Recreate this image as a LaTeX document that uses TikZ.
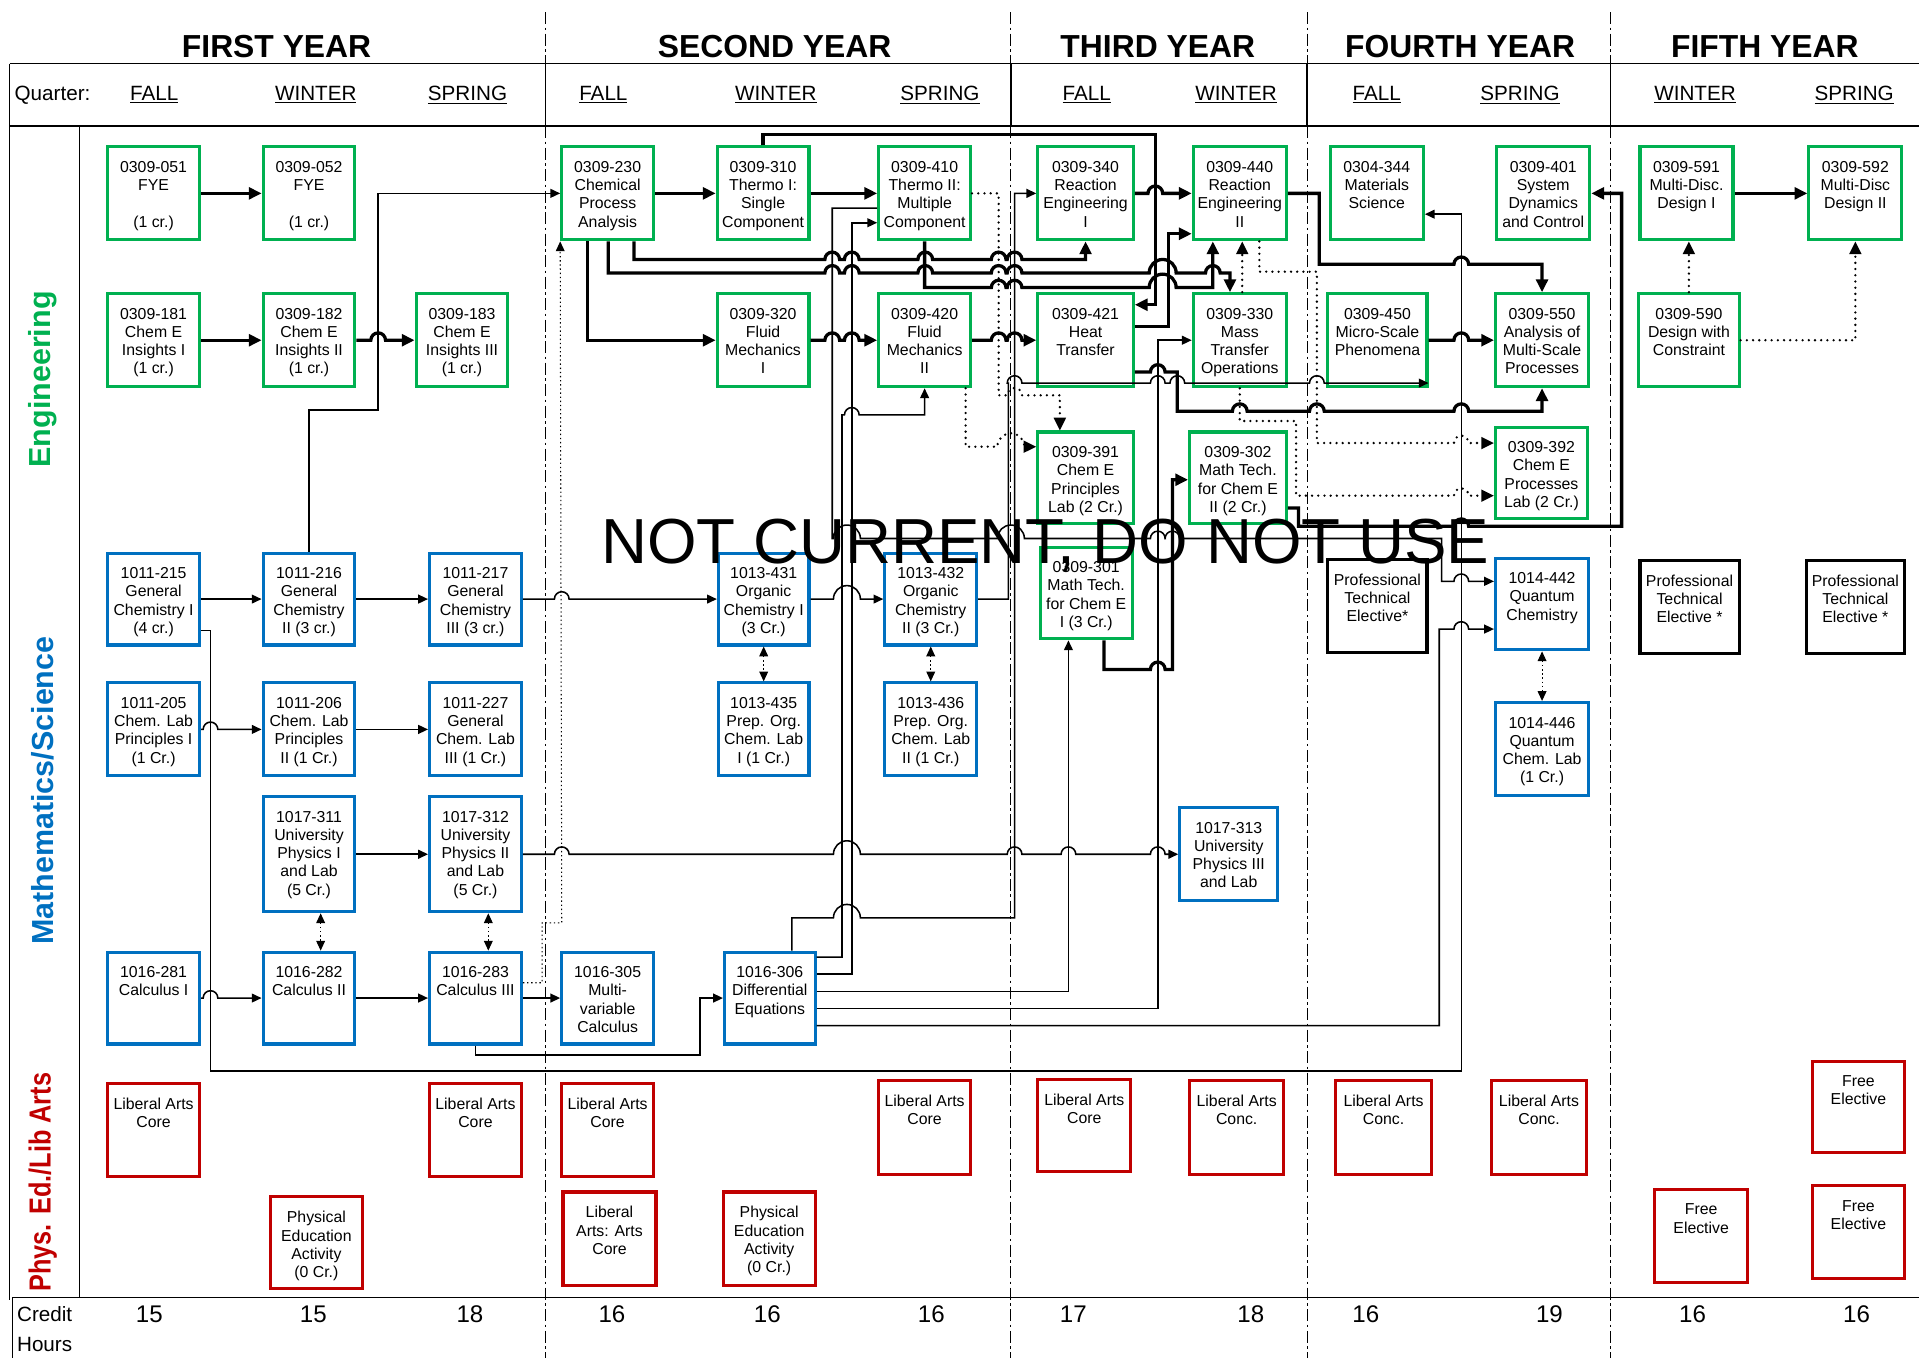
\documentclass[tikz,border=0pt]{standalone}
\usepackage{fontspec}
\usepackage{graphicx}
\setmainfont{Liberation Sans}
\usetikzlibrary{arrows.meta,fit}
\definecolor{engc}{HTML}{00B050}
\definecolor{scic}{HTML}{0070C0}
\definecolor{libc}{HTML}{C00000}
\newcommand\linehop[2]{-- ({#1-6},#2) arc[start angle=180,end angle=0,radius=0.15cm]}
\newcommand\widehop[2]{-- ({#1-11},#2) arc[start angle=180,end angle=0,radius=0.275cm]}
\newcommand\course[4]{\node[#2,fit={#3}] (#1) {};
  \node[crstext] (#1t) at ([yshift=-0.32cm]#1.north) {#4};}
\tikzset{
  eng/.style={draw=engc,line width=1.8pt,inner sep=0pt},
  sci/.style={draw=scic,line width=1.8pt,inner sep=0pt},
  lib/.style={draw=libc,line width=1.8pt,inner sep=0pt},
  elec/.style={draw=black,line width=1.8pt,inner sep=0pt},
  crstext/.style={font=\fontsize{9.2}{10.6}\selectfont,align=center,inner sep=0pt,anchor=north},
  ea/.style={line width=1.9pt,-{Triangle[length=0.26cm,width=0.24cm]}},
  sa/.style={line width=0.9pt,-{Triangle[length=0.2cm,width=0.18cm]}},
  da/.style={line width=1.5pt,line cap=round,dash pattern=on 0pt off 3.6pt,-{Triangle[length=0.26cm,width=0.24cm]}},
  ta/.style={line width=0.6pt,dash pattern=on 0.8pt off 1.6pt,-{Triangle[length=0.2cm,width=0.18cm]}},
  tda/.style={ta,{Triangle[length=0.2cm,width=0.18cm]}-{Triangle[length=0.2cm,width=0.18cm]}},
  gridline/.style={line width=0.7pt},
  yearsep/.style={line width=0.6pt,dash pattern=on 7pt off 2pt on 1.5pt off 2pt},
  yearlab/.style={font=\fontsize{18.5}{22}\selectfont\bfseries,anchor=base},
  qlab/.style={font=\fontsize{12}{14}\selectfont,anchor=base},
  crnum/.style={font=\fontsize{14}{16}\selectfont,anchor=base},
  side/.style={font=\fontsize{17.7}{20}\selectfont\bfseries,rotate=90},
  wmark/.style={font=\fontsize{37}{40}\selectfont}
}
\begin{document}
\begin{tikzpicture}[x=0.025cm,y=-0.025cm]
  %%%%% START %%%%%
  \useasboundingbox (0,0) rectangle (1568,1110);

  % frame
  \draw[gridline] (8,52) -- (1568,52);
  \draw[gridline] (8,103) -- (1568,103);
  \draw[gridline] (8,52) -- (8,1062);
  \draw[gridline] (65,103) -- (65,1060);
  \draw[gridline] (10,1060) -- (1568,1060);
  \draw[gridline] (10,1060) -- (10,1110);

  % year separators
  \draw[yearsep] (446,10) -- (446,52);
  \draw[gridline] (446,52) -- (446,103);
  \draw[yearsep] (446,103) -- (446,1110);
  \draw[yearsep] (826,10) -- (826,52);
  \draw[gridline] (826,52) -- (826,103);
  \draw[yearsep] (826,103) -- (826,1110);
  \draw[yearsep] (1068,10) -- (1068,52);
  \draw[gridline] (1068,52) -- (1068,103);
  \draw[yearsep] (1068,103) -- (1068,1110);
  \draw[yearsep] (1316,10) -- (1316,52);
  \draw[gridline] (1316,52) -- (1316,103);
  \draw[yearsep] (1316,103) -- (1316,1110);

  % headings
  \node[yearlab] (yr1) at (226,47) {FIRST YEAR};
  \node[yearlab] (yr2) at (633,47) {SECOND YEAR};
  \node[yearlab] (yr3) at (946,47) {THIRD YEAR};
  \node[yearlab] (yr4) at (1193,47) {FOURTH YEAR};
  \node[yearlab] (yr5) at (1442,47) {FIFTH YEAR};

  \node[qlab,anchor=base west] (qtr) at (7,82) {Quarter:};
  \node[qlab] (q1) at (126,82) {\underline{FALL}};
  \node[qlab] (q2) at (258,82) {\underline{WINTER}};
  \node[qlab] (q3) at (382,82) {\underline{SPRING}};
  \node[qlab] (q4) at (493,82) {\underline{FALL}};
  \node[qlab] (q5) at (634,82) {\underline{WINTER}};
  \node[qlab] (q6) at (768,82) {\underline{SPRING}};
  \node[qlab] (q7) at (888,82) {\underline{FALL}};
  \node[qlab] (q8) at (1010,82) {\underline{WINTER}};
  \node[qlab] (q9) at (1125,82) {\underline{FALL}};
  \node[qlab] (q10) at (1242,82) {\underline{SPRING}};
  \node[qlab] (q11) at (1385,82) {\underline{WINTER}};
  \node[qlab] (q12) at (1515,82) {\underline{SPRING}};

  \node[side,text=engc] (sEng) at (35,310) {Engineering};
  \node[side,text=scic] (sSci) at (35,646) {Mathematics/Science};
  \node[side,text=libc] (sLib) at (35,966) {\scalebox{0.83}[1]{Phys. Ed./Lib Arts}};

  % credit hours
  \node[qlab,anchor=base west] (crl1) at (9,1080) {Credit};
  \node[qlab,anchor=base west] (crl2) at (9,1104) {Hours};
  \node[crnum] (cr1) at (122,1081) {15};
  \node[crnum] (cr2) at (256,1081) {15};
  \node[crnum] (cr3) at (384,1081) {18};
  \node[crnum] (cr4) at (500,1081) {16};
  \node[crnum] (cr5) at (627,1081) {16};
  \node[crnum] (cr6) at (761,1081) {16};
  \node[crnum] (cr7) at (877,1081) {17};
  \node[crnum] (cr8) at (1022,1081) {18};
  \node[crnum] (cr9) at (1116,1081) {16};
  \node[crnum] (cr10) at (1266,1081) {19};
  \node[crnum] (cr11) at (1383,1081) {16};
  \node[crnum] (cr12) at (1517,1081) {16};

  % engineering courses
  \course{c051}{eng}{(88,120)(163,196)}{0309-051\\FYE\\[10.6pt](1 cr.)}
  \course{c052}{eng}{(215,120)(290,196)}{0309-052\\FYE\\[10.6pt](1 cr.)}
  \course{c181}{eng}{(88,240)(163,316)}{0309-181\\Chem E\\Insights I\\(1 cr.)}
  \course{c182}{eng}{(215,240)(290,316)}{0309-182\\Chem E\\Insights II\\(1 cr.)}
  \course{c183}{eng}{(340,240)(415,316)}{0309-183\\Chem E\\Insights III\\(1 cr.)}
  \course{c230}{eng}{(459,120)(534,196)}{0309-230\\Chemical\\Process\\Analysis}
  \course{c310}{eng}{(586,120)(661,196)}{0309-310\\Thermo I:\\Single\\Component}
  \course{c410}{eng}{(718,120)(793,196)}{0309-410\\Thermo II:\\Multiple\\Component}
  \course{c320}{eng}{(586,240)(661,316)}{0309-320\\Fluid\\Mechanics\\I}
  \course{c420}{eng}{(718,240)(793,316)}{0309-420\\Fluid\\Mechanics\\II}
  \course{c340}{eng}{(848,120)(926,196)}{0309-340\\Reaction\\Engineering\\I}
  \course{c440}{eng}{(975,120)(1051,196)}{0309-440\\Reaction\\Engineering\\II}
  \course{c421}{eng}{(848,240)(926,316)}{0309-421\\Heat\\Transfer}
  \course{c330}{eng}{(975,240)(1051,316)}{0309-330\\Mass\\Transfer\\Operations}
  \course{c391}{eng}{(848,353)(926,428)}{0309-391\\Chem E\\Principles\\Lab (2 Cr.)}
  \course{c302}{eng}{(972,353)(1051,428)}{0309-302\\Math Tech.\\for Chem E\\II (2 Cr.)}
  \course{c301}{eng}{(850,447)(925,522)}{0309-301\\Math Tech.\\for Chem E\\I (3 Cr.)}
  \course{c344}{eng}{(1087,120)(1163,196)}{0304-344\\Materials\\Science}
  \course{c401}{eng}{(1223,120)(1299,196)}{0309-401\\System\\Dynamics\\and Control}
  \course{c450}{eng}{(1085,240)(1166,316)}{0309-450\\Micro-Scale\\Phenomena}
  \course{c550}{eng}{(1222,240)(1298,316)}{0309-550\\Analysis of\\Multi-Scale\\Processes}
  \course{c392}{eng}{(1222,349)(1297,424)}{0309-392\\Chem E\\Processes\\Lab (2 Cr.)}
  \course{c591}{eng}{(1340,120)(1416,196)}{0309-591\\Multi-Disc.\\Design I}
  \course{c592}{eng}{(1478,120)(1554,196)}{0309-592\\Multi-Disc\\Design II}
  \course{c590}{eng}{(1339,240)(1421,316)}{0309-590\\Design with\\Constraint}

  % math / science courses
  \course{c215}{sci}{(88,452)(163,527)}{1011-215\\General\\Chemistry I\\(4 cr.)}
  \course{c216}{sci}{(215,452)(290,527)}{1011-216\\General\\Chemistry\\II (3 cr.)}
  \course{c217}{sci}{(351,452)(426,527)}{1011-217\\General\\Chemistry\\III (3 cr.)}
  \course{c205}{sci}{(88,558)(163,634)}{1011-205\\Chem. Lab\\Principles I\\(1 Cr.)}
  \course{c206}{sci}{(215,558)(290,634)}{1011-206\\Chem. Lab\\Principles\\II (1 Cr.)}
  \course{c227}{sci}{(351,558)(426,634)}{1011-227\\General\\Chem. Lab\\III (1 Cr.)}
  \course{c311}{sci}{(215,651)(290,745)}{1017-311\\University\\Physics I\\and Lab\\(5 Cr.)}
  \course{c312}{sci}{(351,651)(426,745)}{1017-312\\University\\Physics II\\and Lab\\(5 Cr.)}
  \course{c281}{sci}{(88,778)(163,853)}{1016-281\\Calculus I}
  \course{c282}{sci}{(215,778)(290,853)}{1016-282\\Calculus II}
  \course{c283}{sci}{(351,778)(426,853)}{1016-283\\Calculus III}
  \course{c305}{sci}{(459,778)(534,853)}{1016-305\\Multi-\\variable\\Calculus}
  \course{c306}{sci}{(592,778)(666,853)}{1016-306\\Differential\\Equations}
  \course{c431}{sci}{(587,452)(661,527)}{1013-431\\Organic\\Chemistry I\\(3 Cr.)}
  \course{c432}{sci}{(723,452)(798,527)}{1013-432\\Organic\\Chemistry\\II (3 Cr.)}
  \course{c435}{sci}{(587,558)(661,634)}{1013-435\\Prep. Org.\\Chem. Lab\\I (1 Cr.)}
  \course{c436}{sci}{(723,558)(798,634)}{1013-436\\Prep. Org.\\Chem. Lab\\II (1 Cr.)}
  \course{c313}{sci}{(964,660)(1044,736)}{1017-313\\University\\Physics III\\and Lab}
  \course{c442}{sci}{(1222,456)(1298,531)}{1014-442\\Quantum\\Chemistry}
  \course{c446}{sci}{(1222,574)(1298,650)}{1014-446\\Quantum\\Chem. Lab\\(1 Cr.)}

  % electives
  \course{pte1}{elec}{(1085,457)(1166,533)}{Professional\\Technical\\Elective*}
  \course{pte2}{elec}{(1340,458)(1421,534)}{Professional\\Technical\\Elective *}
  \course{pte3}{elec}{(1476,458)(1556,534)}{Professional\\Technical\\Elective *}

  % phys. ed. / liberal arts
  \course{la1}{lib}{(88,885)(163,961)}{Liberal Arts\\Core}
  \course{la2}{lib}{(351,885)(426,961)}{Liberal Arts\\Core}
  \course{la3}{lib}{(459,885)(534,961)}{Liberal Arts\\Core}
  \course{la4}{lib}{(718,883)(793,960)}{Liberal Arts\\Core}
  \course{la5}{lib}{(848,882)(924,957)}{Liberal Arts\\Core}
  \course{la6}{lib}{(972,883)(1049,960)}{Liberal Arts\\Conc.}
  \course{la7}{lib}{(1091,883)(1170,960)}{Liberal Arts\\Conc.}
  \course{la8}{lib}{(1219,883)(1296,960)}{Liberal Arts\\Conc.}
  \course{la9}{lib}{(460,974)(536,1050)}{Liberal\\Arts: Arts\\Core}
  \course{pe1}{lib}{(221,978)(296,1053)}{Physical\\Education\\Activity\\(0 Cr.)}
  \course{pe2}{lib}{(591,974)(666,1050)}{Physical\\Education\\Activity\\(0 Cr.)}
  \course{fe1}{lib}{(1481,867)(1556,942)}{Free\\Elective}
  \course{fe2}{lib}{(1352,972)(1428,1048)}{Free\\Elective}
  \course{fe3}{lib}{(1481,969)(1556,1045)}{Free\\Elective}

  % engineering prerequisites
  \draw[ea] (c051) -- (c052);
  \draw[ea] (c181) -- (c182);
  \draw[ea] (c182.east) \linehop{309}{278} -- (c183.west);
  \draw[ea] (c230) -- (c310);
  \draw[ea] (c310) -- (c410);
  \draw[ea] (c230.south -| 480,0) |- (c320.west);
  \draw[ea] (c320.east) \linehop{680}{278} \linehop{696}{278} -- (c420.west);
  \draw[ea] (c420.east) \linehop{816}{278} \linehop{829}{278} -- (c421.west);
  \draw[ea] (c340.east) \linehop{944}{158} -- (c440.west);
  \draw[ea] (c310.north) |- (944,110) |- (c421.east |- 0,249);
  \draw[ea] (c230.south -| 518,0) -- (518,212) \linehop{680}{212} \linehop{696}{212} \linehop{756}{212} \linehop{816}{212} \linehop{829}{212} -| (c340.south);
  \draw[ea] (c230.south -| 497,0) -- (497,223) \linehop{680}{223} \linehop{696}{223} \linehop{756}{223} \linehop{816}{223} \linehop{829}{223} \widehop{950}{223} \linehop{991}{223} -| (c330.north -| 1005,0);
  \draw[ea] (c410.south) -- (755.5,235) \linehop{816}{235} \linehop{829}{235} \widehop{950}{235} -| (c440.south -| 991,0);
  \draw[ea] (c421.east |- 0,267) -- (955,267) |- (c440.west |- 0,191);
  \draw[ea] (c421.east |- 0,304) \linehop{946}{304} -- (962,304) -- (962,336) \linehop{1013}{336} \linehop{1076}{336} \linehop{1194}{336} -| (c550.south);
  \draw[ea] (c440.east) -- (1078,158) -- (1078,216) \linehop{1194}{216} -| (c550.north);
  \draw[ea] (c450.east) \linehop{1194}{278} -- (c550.west);
  \draw[ea] (c591) -- (c592);
  \draw[ea] (c301.south -| 902,0) -- (902,547) \linehop{946}{547} -- (958,547) |- (c302.west |- 0,392);
  \draw[ea] (c302.east |- 0,415) -- (1061,415) -- (1061,430) \linehop{1194}{430} -- (1325,430) |- (c401.east);

  % co-requisites (dotted)
  \draw[da] (c410.east) -- (816,158) -- (816,323) \linehop{829}{323} -| (c391.north -| 866,0);
  \draw[da] (c420.south -| 789,0) -- (789,365) \widehop{826}{365} -- (c391.west |- 0,365);
  \draw[da] (c440.south -| 1029,0) -- (1029,222) -- (1076,222) -- (1076,362) \linehop{1194}{362} -- (c392.west |- 0,362);
  \draw[da] (c330.south -| 1013,0) -- (1013,344) -- (1059,344) -- (1059,405) \linehop{1194}{405} -- (c392.west |- 0,405);
  \draw[da] (c330.north -| 1015,0) -- (c440.south -| 1015,0);
  \draw[da] (c590.north) -- (c590.north |- c591.south);
  \draw[da] (c590.east) -| (c592.south);

  % math / science prerequisites
  \draw[sa] (c216.north) |- (309,335) -- (309,158) -- (c230.west);
  \draw[sa] (c215) -- (c216);
  \draw[sa] (c216) -- (c217);
  \draw[sa] (c217.east) \linehop{459}{489.5} -- (c431.west);
  \draw[sa] (c431.east) \widehop{692}{489.5} -- (c432.west);
  \draw[sa] (c205.east) \linehop{172}{596} -- (c206.west);
  \draw[sa] (c206) -- (c227);
  \draw[sa] (c311) -- (c312);
  \draw[sa] (c312.east) \linehop{459}{698} \widehop{692}{698} \linehop{829}{698} \linehop{873}{698} \linehop{946}{698} -- (c313.west);
  \draw[sa] (c281.east) \linehop{172}{815.5} -- (c282.west);
  \draw[sa] (c282) -- (c283);
  \draw[sa] (c283) -- (c305);
  \draw[sa] (c283.south) |- (572,862) |- (c306.west);
  \draw[sa] (c215.east |- 0,515) -- (172,515) -- (172,875) -| (1194,175) -- (c344.east |- 0,175);
  \draw[sa] (c306.east |- 0,782) -- (688,782) -- (688,339) \linehop{696}{339} -| (c420.south);
  \draw[sa] (c306.east |- 0,796) -- (696,796) |- (c410.west |- 0,182);
  \draw[sa] (c306.east |- 0,810) -| (c301.south -| 873,0);
  \draw[sa] (c306.east |- 0,824) -- (946,824) |- (c330.west);
  \draw[sa] (c306.east |- 0,838) -- (1176,838) -- (1176,514) \linehop{1194}{514} -- (c442.west |- 0,514);
  \draw[sa] (c306.north -| 647,0) -- (647,750) \widehop{692}{750} -- (829,750) |- (c340.west);
  \draw[sa] (c432.east) -- (824,489.5) -- (824,313) \linehop{829}{313} \linehop{946}{313} \linehop{962}{313} \linehop{1076}{313} -- (c450.east |- 0,313);
  \draw[sa] (c410.west |- 0,170) -- (680,170) -- (680,440) \widehop{692}{440} \widehop{826}{440} \linehop{946}{440} \linehop{958}{440} -- (1178,440) -- (1178,475) \linehop{1194}{475} -- (c442.west |- 0,475);
  \draw[ta] (c283.east |- 0,803) -- (443,803) -- (443,754) -- (459,754) -- (c230.south west);

  % labs with lectures
  \draw[tda] (c311.south -| 262,0) -- (c282.north -| 262,0);
  \draw[tda] (c312.south -| 399,0) -- (c283.north -| 399,0);
  \draw[tda] (c431.south) -- (c435.north);
  \draw[tda] (c432.south) -- (c436.north);
  \draw[tda] (c442.south) -- (c446.north);

  \node[wmark] (wm) at (854,446) {NOT CURRENT, DO NOT USE};
  %%%%% END %%%%%
\end{tikzpicture}
\end{document}
